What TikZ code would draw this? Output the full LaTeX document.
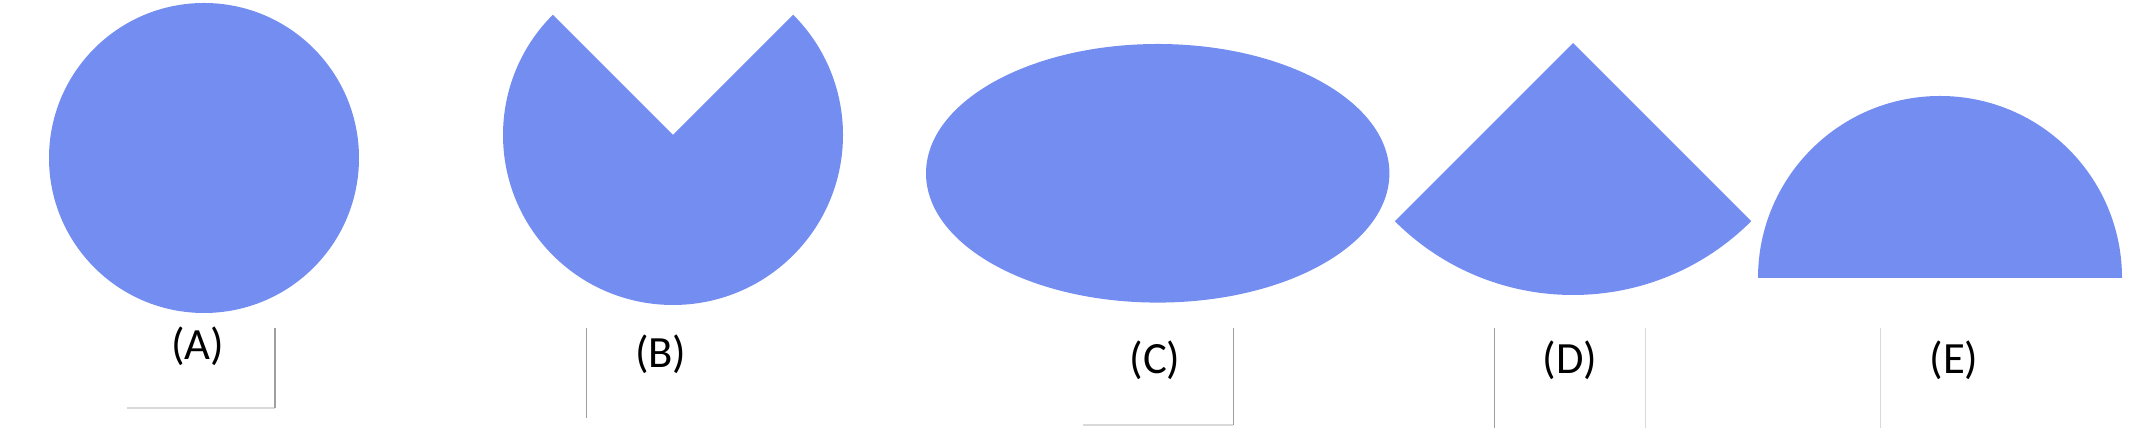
\documentclass[tikz,border=0pt]{standalone}
\usepackage{fontspec}
\setmainfont{Carlito}
\usepackage{tikz}
\definecolor{shapeblue}{RGB}{116,141,241}

\begin{document}
\begin{tikzpicture}[
    x=0.01cm, y=0.01cm,
    every node/.style={font=\fontsize{12.7}{15}\selectfont},
    blob/.style={fill=shapeblue},
    caption/.style={inner sep=0pt, text=black},
    rule/.style={draw=gray!75, line width=0.4pt},
    faintrule/.style={draw=gray!30, line width=0.4pt}
  ]
    \useasboundingbox (0,0) rectangle (2148,428);

    % shapes
    \fill[blob] (204,270) circle[radius=155];
    \fill[blob] (673,293) -- ++(135:170)
      arc[start angle=135, end angle=405, radius=170] -- cycle;
    \fill[blob] (1157.7,254.7) ellipse[x radius=231.7, y radius=129.3];
    \fill[blob] (1573,385) -- ++(-135:252)
      arc[start angle=-135, end angle=-45, radius=252] -- cycle;
    \fill[blob] (1758,150) arc[start angle=180, end angle=0, radius=182] -- cycle;

    % captions
    \node[caption] (capA) at (197.7,82) {(A)};
    \node[caption] (capB) at (660.7,74) {(B)};
    \node[caption] (capC) at (1155,67.5) {(C)};
    \node[caption] (capD) at (1570,67.5) {(D)};
    \node[caption] (capE) at (1954,67.5) {(E)};

    % stray rules
    \draw[faintrule] (126.7,20) -- (275,20);
    \draw[rule] (275,100) -- (275,20);
    \draw[rule] (586.7,100) -- (586.7,10);
    \draw[faintrule] (1083,3) -- (1233.3,3);
    \draw[rule] (1233.3,100) -- (1233.3,3);
    \draw[rule] (1494.3,100) -- (1494.3,0);
    \draw[faintrule] (1645.3,100) -- (1645.3,0);
    \draw[faintrule] (1880.3,100) -- (1880.3,0);

  \end{tikzpicture}
\end{document}
